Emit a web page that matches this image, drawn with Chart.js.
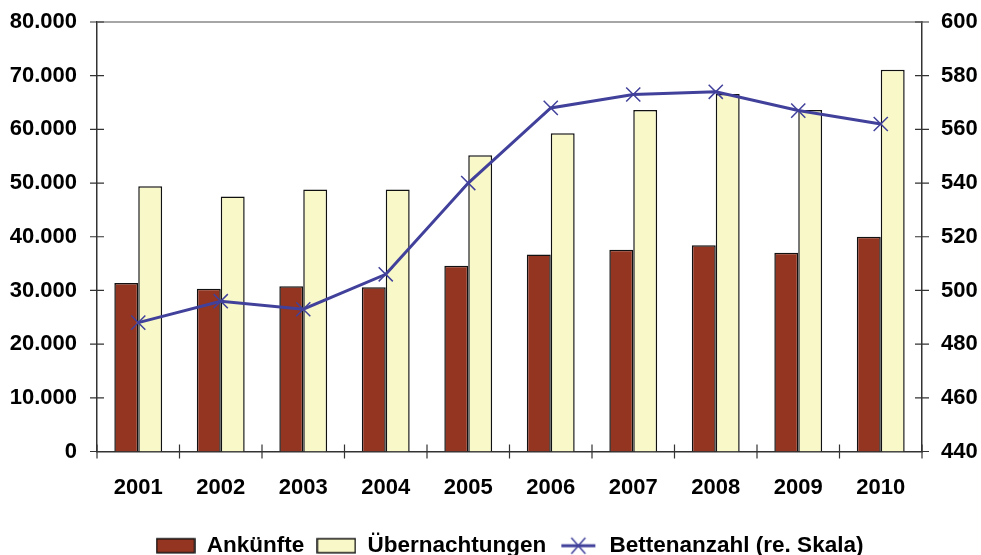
<!DOCTYPE html>
<html>
<head>
<meta charset="utf-8">
<script src="https://cdn.jsdelivr.net/npm/chart.js@4.4.0/dist/chart.umd.min.js"></script>
<style>
  html, body { margin: 0; padding: 0; background: #fff; }
  #wrap { width: 981px; height: 555px; }
</style>
</head>
<body>
<div id="wrap"><canvas id="chart"></canvas></div>
<script>
var jahre = ['2001','2002','2003','2004','2005','2006','2007','2008','2009','2010']
var ankuenfte = [31400, 30300, 30800, 30600, 34600, 36700, 37600, 38400, 37000, 40000]
var uebernachtungen = [49400, 47500, 48800, 48800, 55200, 59300, 63600, 66600, 63600, 71100]
var betten = [488, 496, 493, 506, 540, 568, 573, 574, 567, 562]
var linksTicks = [0, 80000, 10000]
var rechtsTicks = [440, 600, 20]

var rot = '#943521', gelb = '#f8f8c8', blau = '#41419b'
var schrift = { family: '"Liberation Sans", Arial, sans-serif', size: 22, weight: 'bold' }
var legendSchrift = { family: '"Liberation Sans", Arial, sans-serif', size: 22.5, weight: 'bold' }

// kleine bilder fuer die legende
function legendBild(typ, farbe){
    var c = document.createElement('canvas')
    c.width = 40; c.height = 20
    var g = c.getContext('2d')
    if (typ == 'box') {
        g.fillStyle = farbe
        g.fillRect(1, 3, 38, 14)
        g.strokeStyle = '#111'
        g.lineWidth = 1.5
        g.strokeRect(1, 3, 38, 14)
    } else {
        g.strokeStyle = farbe
        g.lineWidth = 3
        g.beginPath(); g.moveTo(3, 10); g.lineTo(37, 10); g.stroke()
        g.lineWidth = 1.5
        g.beginPath()
        g.moveTo(13, 2); g.lineTo(27, 18)
        g.moveTo(27, 2); g.lineTo(13, 18)
        g.stroke()
    }
    return c
}
var legendBilder = [legendBild('box', rot), legendBild('box', gelb), legendBild('line', blau)]

// ticks die durch die achsen gehen + obere linie
var achsenPlugin = {
    id: 'achsen',
    afterDraw: function(chart){
        var ctx = chart.ctx, a = chart.chartArea
        ctx.save()
        ctx.strokeStyle = '#888'
        ctx.lineWidth = 1.5
        ctx.beginPath(); ctx.moveTo(a.left, a.top); ctx.lineTo(a.right, a.top); ctx.stroke()
        ctx.strokeStyle = '#333'
        ctx.lineWidth = 1.2
        ctx.beginPath()
        var yl = chart.scales.y, yr = chart.scales.y2, x = chart.scales.x
        yl.ticks.forEach(function(t){
            var p = yl.getPixelForValue(t.value)
            ctx.moveTo(a.left - 7, p); ctx.lineTo(a.left + 7, p)
        })
        yr.ticks.forEach(function(t){
            var p = yr.getPixelForValue(t.value)
            ctx.moveTo(a.right - 7, p); ctx.lineTo(a.right + 7, p)
        })
        for (var i = 0; i <= jahre.length; i++) {
            var p = x.getPixelForValue(i - 0.5)
            ctx.moveTo(p, a.bottom - 7); ctx.lineTo(p, a.bottom + 7)
        }
        ctx.stroke()
        ctx.restore()
    }
}

new Chart(document.getElementById('chart'), {
    data: {
        labels: jahre,
        datasets: [
            {
                type: 'line',
                label: 'Bettenanzahl (re. Skala)',
                data: betten,
                yAxisID: 'y2',
                borderColor: blau,
                backgroundColor: blau,
                borderWidth: 3,
                pointStyle: 'crossRot',
                pointRadius: 10,
                pointBorderWidth: 1.5,
                tension: 0,
                order: 0
            },
            {
                type: 'bar',
                label: 'Ankünfte',
                data: ankuenfte,
                yAxisID: 'y',
                backgroundColor: rot,
                borderColor: '#111',
                borderWidth: 1.5,
                categoryPercentage: 0.58,
                barPercentage: 1.0,
                order: 1
            },
            {
                type: 'bar',
                label: 'Übernachtungen',
                data: uebernachtungen,
                yAxisID: 'y',
                backgroundColor: gelb,
                borderColor: '#111',
                borderWidth: 1.5,
                categoryPercentage: 0.58,
                barPercentage: 1.0,
                order: 1
            }
        ]
    },
    options: {
        responsive: true,
        maintainAspectRatio: false,
        animation: false,
        layout: { autoPadding: false, padding: { top: 22, left: 0, right: 0, bottom: -12 } },
        plugins: {
            tooltip: { enabled: false },
            legend: {
                position: 'bottom',
                fullSize: false,
                labels: {
                    font: legendSchrift,
                    color: '#000',
                    usePointStyle: true,
                    pointStyleWidth: 40,
                    boxHeight: 20,
                    padding: 12,
                    sort: function(a, b){ return a.datasetIndex == 0 ? 1 : (b.datasetIndex == 0 ? -1 : a.datasetIndex - b.datasetIndex) },
                    generateLabels: function(chart){
                        var items = Chart.defaults.plugins.legend.labels.generateLabels(chart)
                        items.forEach(function(it){
                            it.pointStyle = it.datasetIndex == 0 ? legendBilder[2] : legendBilder[it.datasetIndex - 1]
                        })
                        return items
                    }
                }
            }
        },
        scales: {
            x: {
                grid: { display: false, drawTicks: false },
                border: { display: true, color: '#333', width: 1.5 },
                ticks: { font: schrift, color: '#000', padding: 23 },
                afterFit: function(s){ s.height = 71 }
            },
            y: {
                position: 'left',
                min: linksTicks[0], max: linksTicks[1],
                grid: { display: false, drawTicks: true, tickLength: 20 },
                border: { display: true, color: '#333', width: 1.5 },
                ticks: {
                    stepSize: linksTicks[2], font: schrift, color: '#000', padding: 0,
                    callback: function(v){ return v == 0 ? '0' : (v / 1000).toFixed(3) }
                },
                afterFit: function(s){ s.width = 97 }
            },
            y2: {
                position: 'right',
                min: rechtsTicks[0], max: rechtsTicks[1],
                grid: { display: false, drawTicks: true, tickLength: 19 },
                border: { display: true, color: '#333', width: 1.5 },
                ticks: { stepSize: rechtsTicks[2], font: schrift, color: '#000', padding: 0 },
                afterFit: function(s){ s.width = 59 }
            }
        }
    },
    plugins: [achsenPlugin]
})
</script>
</body>
</html>
